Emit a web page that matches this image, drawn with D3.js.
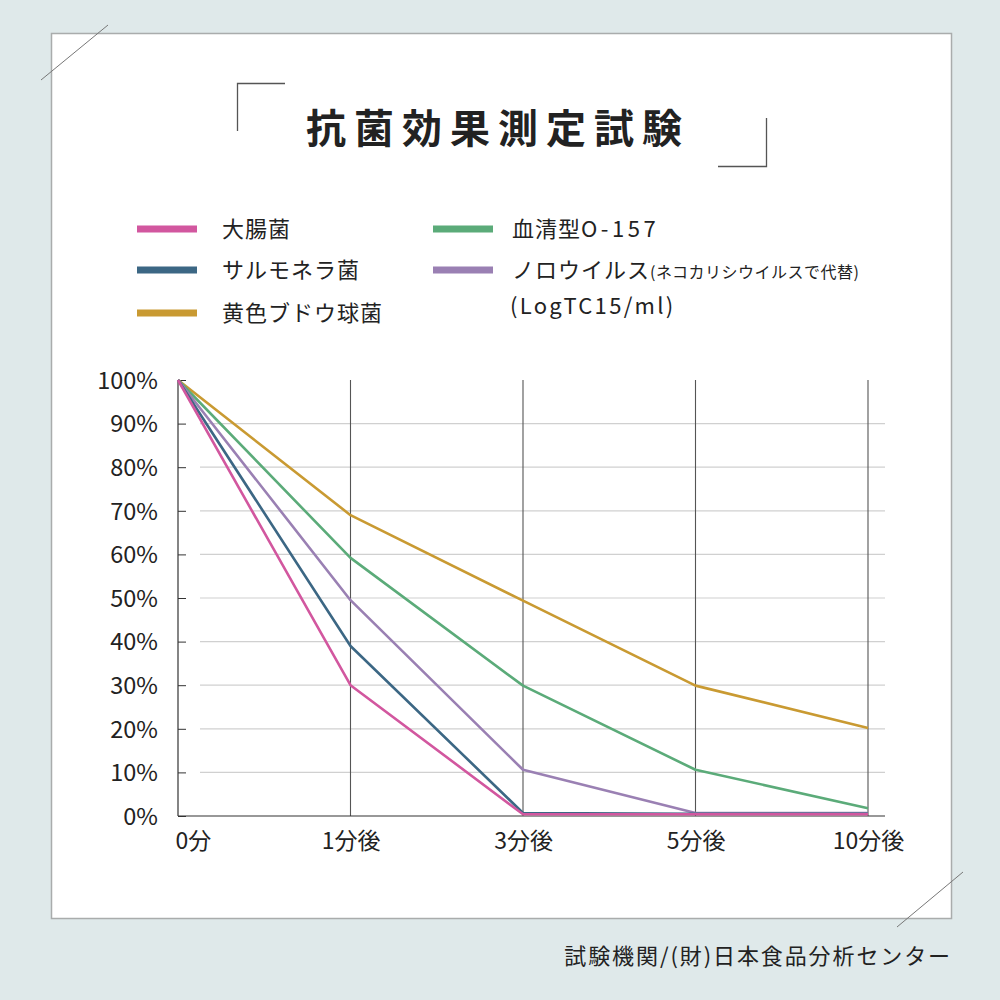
<!DOCTYPE html>
<html><head><meta charset="utf-8">
<script src="https://cdn.jsdelivr.net/npm/d3@7"></script>
<style>html,body{margin:0;padding:0;background:#dfe9ea;}svg{display:block;}</style>
</head><body>
<script>
const categories = ["0分","1分後","3分後","5分後","10分後"];
const seriesNames = ["大腸菌","サルモネラ菌","黄色ブドウ球菌","血清型O-157","ノロウイルス"];
const ecoli      = [100, 30, 0.4, 0.4, 0.4];
const salmonella = [100, 39, 0.7, 0.5, 0.5];
const staph      = [100, 69, 49.4, 29.9, 20.2];
const o157       = [100, 59.2, 29.9, 10.6, 1.8];
const norovirus  = [100, 49.5, 10.6, 0.7, 0.7];
const seriesValues = [ecoli, salmonella, staph, o157, norovirus];
const seriesColors = ["#d2579f","#3c6784","#c99a32","#5bab79","#9a80b3"];
const yTicks = [0,10,20,30,40,50,60,70,80,90,100];

const W=1000,H=1000;
const svg=d3.select("body").append("svg").attr("width",W).attr("height",H);
svg.append("rect").attr("width",W).attr("height",H).attr("fill","#dfe9ea");
svg.append("rect").attr("x",51.5).attr("y",33.5).attr("width",900).attr("height",885)
  .attr("fill","#fff").attr("stroke","#a9acac").attr("stroke-width",1.5);
svg.append("line").attr("x1",41).attr("y1",80).attr("x2",108).attr("y2",25).attr("stroke","#777").attr("stroke-width",1);
svg.append("line").attr("x1",897).attr("y1",927).attr("x2",963).attr("y2",872).attr("stroke","#777").attr("stroke-width",1);

// title brackets
svg.append("path").attr("d","M237.5,131 V83.5 H285").attr("fill","none").attr("stroke","#555").attr("stroke-width",1.3);
svg.append("path").attr("d","M718,166.5 H766.5 V118").attr("fill","none").attr("stroke","#555").attr("stroke-width",1.3);
svg.append("text").attr("x",498).attr("y",143).attr("text-anchor","middle")
  .attr("font-family","'Noto Sans CJK JP'").attr("font-weight","bold").attr("font-size",40)
  .attr("letter-spacing",8).attr("fill","#222").text("抗菌効果測定試験");

// legend
const legendPos=[[137,229],[137,270],[137,313],[433,229],[433,270]];
const lg=svg.append("g").attr("font-family","'Noto Sans CJK JP'").attr("fill","#222");
seriesNames.forEach((n,i)=>{
  const [x,y]=legendPos[i];
  lg.append("rect").attr("x",x).attr("y",y-3.5).attr("width",60).attr("height",7).attr("fill",seriesColors[i]);
  const t=lg.append("text").attr("x",x+(i<3?85:79)).attr("y",y+8)
    .attr("font-size",22).attr("letter-spacing",1);
  if(i===3){
    t.append("tspan").text("血清型");
    t.append("tspan").attr("letter-spacing",3.5).text("O-157");
  } else {
    t.text(n);
  }
  if(i===4){ t.append("tspan").attr("font-size",16).attr("letter-spacing",0.5).text("(ネコカリシウイルスで代替)"); }
});
lg.append("text").attr("x",510).attr("y",314).attr("font-size",22).attr("letter-spacing",2.3).text("(LogTC15/ml)");

// chart
const x0=178, y0=816, yTop=380;
const x=d3.scalePoint().domain(categories).range([178,868]);
const y=d3.scaleLinear().domain([0,100]).range([y0,yTop]);
const g=svg.append("g");
g.selectAll("line.grid").data(yTicks.filter(v=>v>0&&v<100)).join("line")
  .attr("x1",200).attr("x2",885).attr("y1",d=>y(d)).attr("y2",d=>y(d))
  .attr("stroke","#d0d0d0").attr("stroke-width",1.2);
g.selectAll("line.vc").data(categories.slice(1)).join("line")
  .attr("x1",d=>x(d)).attr("x2",d=>x(d)).attr("y1",yTop).attr("y2",y0)
  .attr("stroke","#555").attr("stroke-width",1.1);
const yAxis=d3.axisLeft(y).tickValues(yTicks).tickFormat(d=>d+"%").tickSize(-8).tickPadding(20);
const ya=g.append("g").attr("transform",`translate(${x0},0)`).call(yAxis);
ya.select(".domain").attr("stroke","#333").attr("stroke-width",1.2).attr("d",`M0,${yTop}V${y0}`);
ya.selectAll(".tick line").attr("stroke","#333");
ya.selectAll(".tick text").attr("font-family","'Noto Sans CJK JP'").attr("font-size",23.5).attr("fill","#222").attr("dy","0.35em");
const xAxis=d3.axisBottom(x).tickSize(0).tickPadding(13);
const xa=g.append("g").attr("transform",`translate(0,${y0})`).call(xAxis);
xa.select(".domain").attr("stroke","#333").attr("stroke-width",1.2).attr("d",`M${x0},0H885`);
xa.selectAll(".tick text").attr("font-family","'Noto Sans CJK JP'").attr("font-size",23).attr("fill","#222").attr("dy","0.85em");
xa.selectAll(".tick text").filter(d=>d===categories[0]).attr("text-anchor","start").attr("dx",-3);

const line=d3.line().x((d,i)=>x(categories[i])).y(d=>y(d));
[2,3,4,1,0].forEach(i=>{
  g.append("path").datum(seriesValues[i]).attr("d",line).attr("fill","none")
   .attr("stroke",seriesColors[i]).attr("stroke-width",2.6).attr("stroke-linejoin","round");
});

svg.append("text").attr("x",952).attr("y",964).attr("text-anchor","end")
  .attr("font-family","'Noto Sans CJK JP'").attr("font-size",22).attr("fill","#222").attr("letter-spacing",1.9)
  .text("試験機関/(財)日本食品分析センター");
</script>
</body></html>
